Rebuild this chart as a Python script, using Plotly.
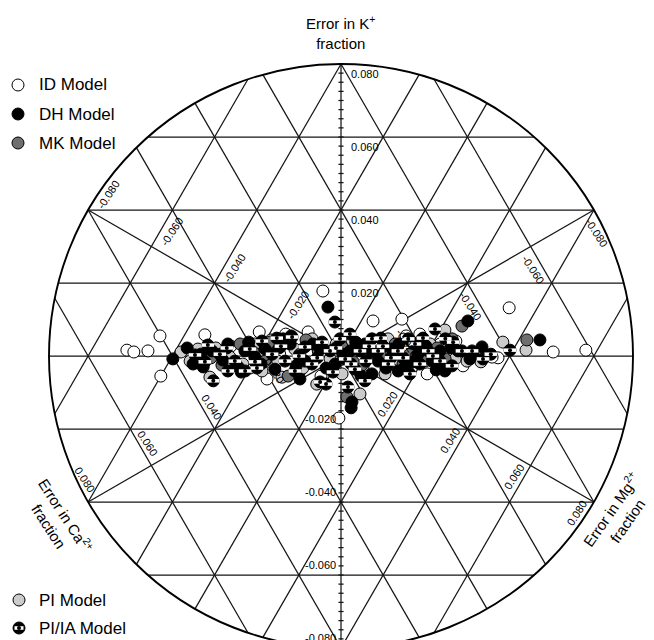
import numpy as np
import plotly.graph_objects as go

# ---------------- data: error in K+ fraction and error in Mg2+ fraction
# (error in Ca2+ fraction = -(K + Mg), the three errors sum to zero)
id_k = [0.0016, 0.0011, 0.0014, 0.0055, -0.0055, -0.0033, -0.0063, 0.0066, 0.0066, 0.0178,
        0.0096, 0.0101, -0.0049, -0.0170, 0.0132, 0.0011, 0.0016, -0.0005, -0.0003, -0.0027,
        0.0058, 0.0005, 0.0027, -0.0003, 0.0033, -0.0041, 0.0060, -0.0033,
        0.0027, -0.0055, 0.0055, 0.0041, 0.0060]
id_mg = [-0.0516, -0.0497, -0.0465, -0.0457, -0.0400, -0.0200, -0.0144, -0.0227, -0.0111, -0.0132,
         0.0028, 0.0094, 0.0229, 0.0080, 0.0333, 0.0498, 0.0573, 0.0375, 0.0360, 0.0303,
         -0.0352, -0.0148, 0.0031, 0.0130, 0.0219, -0.0077, 0.0157, 0.0266,
         -0.0275, -0.0020, 0.0127, 0.0252, -0.0161]

dh_k = [-0.0008, 0.0022, -0.0030, 0.0014, 0.0033, -0.0030, 0.0134, -0.0036, -0.0126, 0.0096,
        0.0044, 0.0025, 0.0014, 0.0019, 0.0033, -0.0014, 0.0019, -0.0022, 0.0014, 0.0033,
        -0.0014, 0.0019, -0.0030, 0.0005, -0.0014, -0.0041, -0.0063, -0.0003, 0.0014, -0.0049,
        0.0038, -0.0008, 0.0005, 0.0014, -0.0041, 0.0047, -0.0022, -0.0142,
        0.0005, -0.0011, 0.0038, -0.0022, 0.0022, -0.0027, 0.0033, -0.0033, 0.0005, 0.0038,
        0.0011, -0.0033, 0.0033, -0.0016, 0.0027, -0.0038, 0.0022, -0.0044, 0.0055, -0.0055]
dh_mg = [-0.0395, -0.0376, -0.0312, -0.0313, -0.0285, -0.0229, -0.0098, -0.0139, 0.0089, 0.0253,
         0.0450, 0.0322, 0.0271, -0.0190, -0.0137, -0.0079, -0.0059, -0.0003, 0.0015, 0.0041,
         0.0095, 0.0111, 0.0167, 0.0180, 0.0223, 0.0267, -0.0066, -0.0203, -0.0235, 0.0098,
         0.0149, 0.0310, 0.0311, 0.0228, 0.0156, -0.0161, -0.0340, 0.0095,
         -0.0335, -0.0275, -0.0238, -0.0179, -0.0158, -0.0093, -0.0083, -0.0019, 0.0002, 0.0016,
         0.0066, 0.0123, 0.0121, 0.0179, 0.0188, 0.0245, 0.0250, -0.0215, -0.0146, 0.0075]

mk_k = [0.0082, 0.0044, -0.0055, -0.0025, 0.0014, 0.0025, -0.0025, 0.0033, -0.0014, -0.0014,
        0.0047, 0.0005, 0.0005, 0.0033, -0.0112, -0.0008, 0.0038, 0.0005,
        -0.0005, 0.0044, -0.0016, -0.0022, 0.0022, 0.0011]
mk_mg = [0.0246, 0.0419, -0.0098, -0.0270, -0.0061, -0.0010, 0.0062, 0.0112, 0.0206, -0.0173,
         0.0240, -0.0100, 0.0090, -0.0256, 0.0070, 0.0251, -0.0188, 0.0161,
         -0.0306, -0.0105, 0.0037, 0.0158, 0.0217, -0.0214]

pi_k = [-0.0014, -0.0058, 0.0071, 0.0038, 0.0016, -0.0014, -0.0077, -0.0104, 0.0019, -0.0003,
        0.0033, -0.0014, 0.0019, 0.0047, -0.0008, 0.0041, -0.0003, 0.0047, -0.0014, 0.0025,
        0.0033, -0.0030, -0.0008, -0.0058, -0.0049, -0.0041, -0.0049,
        0.0022, -0.0022, 0.0044, -0.0033, 0.0033, -0.0027, 0.0016, -0.0038, 0.0044, 0.0011,
        -0.0016, 0.0011]
pi_mg = [-0.0351, -0.0282, 0.0211, 0.0365, 0.0431, 0.0306, -0.0019, 0.0097, -0.0349, -0.0262,
         -0.0221, -0.0143, -0.0119, -0.0092, -0.0022, 0.0006, 0.0070, 0.0088, 0.0147, 0.0163,
         0.0195, 0.0245, 0.0275, -0.0111, 0.0129, -0.0167, 0.0027,
         -0.0308, -0.0222, -0.0188, -0.0074, -0.0028, 0.0066, 0.0115, 0.0176, 0.0168, 0.0237,
         0.0340, -0.0385]

piia_k = [0.0093, -0.0071, -0.0077, -0.0085, 0.0016, 0.0074, -0.0027, 0.0014, -0.0068, 0.0003,
          0.0030, 0.0005, -0.0014, 0.0019, 0.0041, 0.0005, -0.0014, 0.0052, 0.0025, -0.0022,
          0.0038, 0.0014, 0.0047, -0.0008, -0.0036, 0.0014, 0.0047, 0.0014, -0.0022, 0.0014,
          0.0047, -0.0022, 0.0014, -0.0014, 0.0014, -0.0008, -0.0041, -0.0068, -0.0049, -0.0041,
          0.0047, -0.0041, 0.0060, -0.0016, 0.0027, 0.0027, -0.0005, 0.0022, -0.0014, 0.0049,
          -0.0016, 0.0022, -0.0033, 0.0000, -0.0005, -0.0022, 0.0027, -0.0005, 0.0033, 0.0000,
          0.0038, 0.0049, -0.0044, 0.0049, 0.0005]
piia_mg = [-0.0061, -0.0014, 0.0003, 0.0059, 0.0393, 0.0186, 0.0277, 0.0304, -0.0269, -0.0348,
           -0.0331, -0.0290, -0.0245, -0.0226, -0.0208, -0.0166, -0.0126, -0.0142, -0.0098, -0.0058,
           -0.0064, -0.0033, -0.0026, 0.0014, 0.0051, 0.0038, 0.0050, 0.0081, 0.0123, 0.0128,
           0.0136, 0.0198, 0.0200, 0.0242, 0.0280, 0.0341, -0.0089, 0.0091, 0.0188, -0.0207,
           0.0224, -0.0248, -0.0009, -0.0196, -0.0156, 0.0086, 0.0150, -0.0023, 0.0066, 0.0170,
           -0.0315, -0.0282, -0.0183, -0.0100, -0.0054, 0.0035, 0.0053, 0.0121, 0.0159, 0.0218,
           0.0247, -0.0177, 0.0003, 0.0070, 0.0353]

k_tick_vals = [0.08, 0.06, 0.04, 0.02, -0.02, -0.04, -0.06, -0.08]
diag_tick_vals = [0.02, 0.04, 0.06, 0.08, -0.02, -0.04, -0.06, -0.08]
model_names = ["ID Model", "DH Model", "MK Model", "PI Model", "PI/IA Model"]

# ---------------- geometry (the page adds an 8 px body margin)
S3 = np.sqrt(3.0)
R = 0.08
PX = 3650.0            # pixels per error unit
W, H = 646, 632
OFF = 8
CX, CY = 341 - OFF, 356 - OFF      # pixel position of zero error inside the figure
Y_MIN = -(H - CY) / PX


def to_xy(k, mg):
    k = np.asarray(k, float)
    mg = np.asarray(mg, float)
    return (2 * mg + k) / S3, k


def fmt(v):
    return ("-" if v < 0 else "") + "%.3f" % abs(v)


def pxx(px):
    return (px - OFF) / W


def pxy(py):
    return 1 - (py - OFF) / H


fig = go.Figure()
LINE = "#151515"
FONT = "Liberation Sans, Arial, Helvetica, sans-serif"

# grid lines (constant K, constant Ca, constant Mg) clipped to the circle
gx, gy = [], []
normals = [(0.0, 1.0), (-S3 / 2, -0.5), (S3 / 2, -0.5)]
for nx, ny in normals:
    for c in np.arange(-0.06, 0.0601, 0.02):
        h = np.sqrt(R * R - c * c)
        fx, fy = c * nx, c * ny
        tx, ty = -ny, nx
        gx += [fx - h * tx, fx + h * tx, None]
        gy += [fy - h * ty, fy + h * ty, None]
# the three axes (diameters)
for ang in (90, 30, 150):
    ux, uy = np.cos(np.radians(ang)), np.sin(np.radians(ang))
    gx += [-R * ux, R * ux, None]
    gy += [-R * uy, R * uy, None]
# small ticks on the K axis
for v in np.arange(-0.08, 0.0801, 0.0025):
    gx += [-0.0007, 0.0007, None]
    gy += [v, v, None]
fig.add_trace(go.Scatter(x=gx, y=gy, mode="lines", line=dict(color=LINE, width=1.25),
                         hoverinfo="skip", showlegend=False))

fig.add_shape(type="circle", xref="x", yref="y", x0=-R, x1=R, y0=-R, y1=R,
              line=dict(color="black", width=1.9), layer="above")

# ---------------- data markers
MS = 12
series = [
    (id_k, id_mg, "white", model_names[0]),
    (pi_k, pi_mg, "#cbcbcb", model_names[3]),
    (mk_k, mk_mg, "#6f6f6f", model_names[2]),
    (dh_k, dh_mg, "black", model_names[1]),
]
for k, mg, col, name in series:
    x, y = to_xy(k, mg)
    fig.add_trace(go.Scatter(x=x, y=y, mode="markers", name=name, showlegend=False,
                             marker=dict(size=MS, color=col, line=dict(color="black", width=1))))

x, y = to_xy(piia_k, piia_mg)
fig.add_trace(go.Scatter(x=x, y=y, mode="markers", name=model_names[4], showlegend=False,
                         marker=dict(size=MS, color="black", line=dict(color="black", width=1))))
fig.add_trace(go.Scatter(x=x, y=y, mode="markers", showlegend=False, hoverinfo="skip",
                         marker=dict(size=9, symbol="line-ew", line=dict(color="white", width=3.5))))
fig.add_trace(go.Scatter(x=x, y=y, mode="markers", showlegend=False, hoverinfo="skip",
                         marker=dict(size=4, color="black", line=dict(width=0))))

# ---------------- tick labels
ann = []
for v in k_tick_vals:
    if v > 0:
        ann.append(dict(x=0, y=v, text=fmt(v), xanchor="left", yanchor="middle",
                        xshift=8, yshift=-10))
    else:
        ya = max(v, Y_MIN + 0.0002)        # keep the anchor inside the visible range
        ann.append(dict(x=0, y=ya, text=fmt(v), xanchor="right", yanchor="middle",
                        xshift=-3, yshift=10 - (ya - v) * PX))
u_mg = (S3 / 2, -0.5)
u_ca = (-S3 / 2, -0.5)
for v in diag_tick_vals:
    # Mg axis
    if v > 0:
        xs, ys = -17, -11
    else:
        xs, ys = 20, 15
    ann.append(dict(x=v * u_mg[0], y=v * u_mg[1], text=fmt(v), textangle=-57,
                    xanchor="center", yanchor="middle", xshift=xs, yshift=ys))
    # Ca axis
    if v > 0:
        xs, ys = -3, 22
    else:
        xs, ys = 3, -23
    ann.append(dict(x=v * u_ca[0], y=v * u_ca[1], text=fmt(v), textangle=57,
                    xanchor="center", yanchor="middle", xshift=xs, yshift=ys))
for a in ann:
    a.update(showarrow=False, xref="x", yref="y", font=dict(size=11, color="black", family=FONT))

# axis titles
titles = [
    ("Error in K<sup>+</sup><br>fraction", 341, 33, 0),
    ("Error in Ca<sup>2+</sup><br>fraction", 58, 520, 57),
    ("Error in Mg<sup>2+</sup><br>fraction", 619, 515, -55),
]
for t, px, py, ang in titles:
    ann.append(dict(x=pxx(px), y=pxy(py), xref="paper", yref="paper", text=t,
                    textangle=ang, showarrow=False, xanchor="center", yanchor="middle",
                    font=dict(size=15, color="black", family=FONT)))

# ---------------- legend (symbols drawn as layout shapes)
leg_items = [
    (model_names[0], "white", 18, 85),
    (model_names[1], "black", 18, 114),
    (model_names[2], "#6f6f6f", 18, 143),
    (model_names[3], "#cbcbcb", 19, 600),
    (model_names[4], "black", 19, 628),
]
for name, col, px, py in leg_items:
    fig.add_shape(type="circle", xref="paper", yref="paper", xsizemode="pixel", ysizemode="pixel",
                  xanchor=pxx(px), yanchor=pxy(py), x0=-6, x1=6, y0=-6, y1=6,
                  fillcolor=col, line=dict(color="black", width=1))
    ann.append(dict(x=pxx(37), y=pxy(py), xref="paper", yref="paper", text=name,
                    showarrow=False, xanchor="left", yanchor="middle",
                    font=dict(size=17, color="black", family=FONT)))
# PI/IA legend symbol detail
px, py = leg_items[4][2], leg_items[4][3]
fig.add_shape(type="rect", xref="paper", yref="paper", xsizemode="pixel", ysizemode="pixel",
              xanchor=pxx(px), yanchor=pxy(py), x0=-4.5, x1=4.5, y0=-1.8, y1=1.8,
              fillcolor="white", line=dict(width=0))
fig.add_shape(type="circle", xref="paper", yref="paper", xsizemode="pixel", ysizemode="pixel",
              xanchor=pxx(px), yanchor=pxy(py), x0=-2, x1=2, y0=-2, y1=2,
              fillcolor="black", line=dict(width=0))

fig.update_layout(
    width=W, height=H, margin=dict(l=0, r=0, t=0, b=0),
    paper_bgcolor="white", plot_bgcolor="white",
    xaxis=dict(range=[-CX / PX, (W - CX) / PX], visible=False, fixedrange=True),
    yaxis=dict(range=[Y_MIN, CY / PX], visible=False, fixedrange=True),
    annotations=ann, showlegend=False,
)

fig.write_html("out.html")
